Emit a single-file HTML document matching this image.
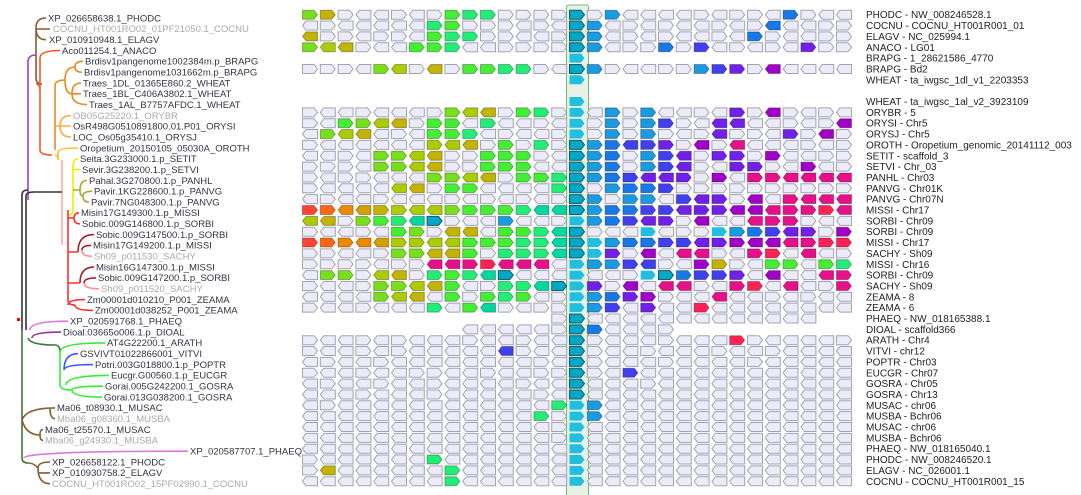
<!DOCTYPE html>
<html><head><meta charset="utf-8"><style>
body{margin:0;background:#fff}
svg{display:block}
text{font-family:"Liberation Sans",sans-serif}
</style></head><body>
<svg id="chart" width="1081" height="495" viewBox="0 0 1081 495" xmlns="http://www.w3.org/2000/svg">
<g id="tree" fill="none" stroke-width="1.6">
<path stroke="#8a5a30" d="M46 18 Q36 18 36 28 Q36 39.7 46 39.7 M36 29 H50 M36 29 V78 Q36 84 42 84"/>
<path stroke="#9a40d0" d="M28 200 V62 Q28 55 36 55"/>
<path stroke="#ff5522" d="M36 84 Q40 84 40 90 V150 Q40 155 52 155 M40 90 V58 Q40 50.5 60 50.5"/>
<path stroke="#e88a22" d="M55 150 V86 Q55 80 65 80 M65 80 Q65 67 75 67 M75 67 Q75 61.3 83 61.3 M75 67 Q75 72.2 82 72.2 M65 80 Q65 93.8 72 93.8 M72 93.8 Q72 83 81 83 M72 93.8 H81 M72 93.8 Q72 104.6 87 104.6"/>
<path stroke="#ffaa44" d="M55 126 H60 M60 126 Q60 115.5 71 115.5 M60 126 H71 M60 126 Q60 137 71 137"/>
<path stroke="#ffbb33" d="M55 155 Q58 155 58 160 V152 Q58 148 78 148"/>
<path stroke="#ffaaaa" d="M62 160 V245"/>
<path stroke="#eeee00" d="M78 158.8 Q73 158.8 73 168 V210 Q73 215 68 215 M73 169.6 H80"/>
<path stroke="#a8a830" d="M73 190 H80 M80 190 Q80 180.5 87 180.5 M80 190 Q80 196 83 196 M83 196 Q83 191.3 92 191.3 M83 196 Q83 202 89 202"/>
<path stroke="#ff3030" d="M68 210 V300 Q68 305 75 305 M68 218 H74 M74 218 Q74 212.9 79 212.9 M74 218 Q74 223.8 80 223.8 M68 252 H78 M68 283 H80 M68 305 Q68 299.6 85 299.6 M75 305 Q75 310.4 93 310.4"/>
<path stroke="#aa2030" d="M78 252 Q78 234.6 94 234.6 M82 250 Q82 245.4 91 245.4 M80 283 Q80 267.1 94 267.1 M84 283 Q84 277.9 96 277.9"/>
<path stroke="#ff9090" d="M82 250 Q82 256.3 92 256.3 M84 283 Q84 288.8 99 288.8"/>
<path stroke="#333" d="M22 195 V330 M26 196 V330 M22 195 Q22 190 28 190 M26 196 Q26 192 34 192 H62"/>
<path stroke="#dd77dd" d="M30 330 Q30 321.2 68 321.2 M24 458 Q24 451.2 188 451.2"/>
<path stroke="#993399" d="M32 338 Q32 332.1 61 332.1"/>
<path stroke="#3a7a3a" d="M22 330 V458 Q22 463 28 463 M28 338 Q30 345 55 345 Q60 345 60 352"/>
<path stroke="#33ee33" d="M60 375 V352 Q60 342.9 105 342.9 M66 385 Q66 375.4 109 375.4 M72 390 Q72 386.2 103 386.2 M72 390 Q72 397.1 102 397.1 M60 375 V385 Q60 390 72 390"/>
<path stroke="#4455ff" d="M64 370 Q64 353.7 78 353.7 M64 370 Q64 364.6 93 364.6"/>
<path stroke="#8a5a30" d="M22 420 Q26 407.9 55 407.9 M50 407.9 Q50 418.7 55 418.7 M22 420 Q26 435 40 435 Q40 429.5 43 429.5 M40 435 Q40 440.4 43 440.4 M28 463 Q34 463 38 468 Q38 462 50 462 M38 468 Q38 483.7 50 483.7 M38 472.9 H50"/>
<rect x="17" y="318" width="3" height="3" fill="#f00" stroke="none"/>
</g>
<rect id="hl" x="566.5" y="5" width="22" height="492" rx="2" fill="#e6f2e6" stroke="#6bbf6b" stroke-width="1"/>
<g id="grid"></g>
<g id="leftLabels" font-size="9.5"></g>
<g id="rightLabels" font-size="10"></g>
</svg>
<script>
const rowCells = [
"LO><<><>GSS>>>>C>B<<<<><>><D><<",
"<><<<<<SG>>><><CB<><><<><>d<<>>",
"o>><>><GSS>><<>CB<><><<><D><<>>",
"Lyo><<GGS<<>>>>CB<>>D>V<><><P>>",
"...............q...............",
">>><Ly>o>GGSS><CB><<>>BVP>m<<<<",
"...............q...............",
"...............................",
"...............q...............",
"><<><<<>Lyo>GS>q<B>B<<><P>m><><",
"><GLyo>GG<S<<><q>B>BV><pp<<><>m",
"<Lyo<><GGS<><<>q>B>B><>p>><P>m>",
"><<<<<<Yyo>G>S>CBDvVP>m>k<<<><>",
"<<><LLyo>>GGG><CBD>BVp>PP>M<<>>",
">>><LLyo>>GGG<<CBD>BVp><PP><M<>",
"><>><<<LLyo>GGSCBDVppP>M<KKkkkk",
"><<<<yo>GG<<<<SC>BDDV>>>>>>>>>>",
"<><<><<<><><><>CB>BB<VpP>m<Kkkk",
"1294OYyyLGGGSttCBDDVVpPPmmkKKRk",
"yo>LGStC><<B<<>qBDVpP>m<<kKK><<",
"><<><GL>oo<GGStC><<q<>>qBDVpP>M",
"12394YYyyGGGSStCqBDDVVpPMmmkKRR",
">><<>LLooG>SSStCqP>m<kk><KR<k<>",
">>>><>>kkKRkkk<qBBVv><MO><GG<GS",
"<LL>yo>SGStC<<<q<<>qCDVVP<m<<kK",
"><<>LLyoG<>SStCqP>m<kk><KR<k<>K",
"<<<<Lyo<G>GSG<>qBDPM><<k<<><><<",
"><<><<<S<Gt><>>qBV<P<<R<<<<<<<<",
"..............>C<<<<<<<<<<<<<..",
".........<<<<<>CD<<<>..........",
"><<><><<<><<><<C><<<><<<R><<<<>",
"><<><><<<<<v><<C><<><<<><<><<<<",
"<><<><<<<<<<<><C><<<><<<<><<<<<",
"><<><<>><<><<>>C><V<<<<<<<<<<<<",
"<><<><<><<<<><<C<<<><<<<<<<<<<<",
"<<<><<<><<<<<><C<<<<<<<<<<<<<<<",
"<><<<<<<<<<<<<SqB<<<<<<<<<<<<<<",
"<<<<<<<<<<<<<S>qB<<<<<<<<<<<<<<",
"<<<<<<<<<<<<<<>q<<<<<<<<<<<<<<<",
"<<<<<<<<<<<<<<>q<<<<<<<<<<<<<<<",
"<<<<<<<<<<<<<<<q<<<<<<<<<<<<<<<",
"><<<<<<S<<<<<<<q<<<<<<<<<<<<<<<",
">o<<<<<<S<<<<<<q<<<<<<<<<<<<<<<",
"<<<<<<<<S<<<<<<q<<<<<<<<<<<<<<<"
];
const rightLabels = [
"PHODC - NW_008246528.1","COCNU - COCNU_HT001R001_01","ELAGV - NC_025994.1","ANACO - LG01",
"BRAPG - 1_28621586_4770","BRAPG - Bd2","WHEAT - ta_iwgsc_1dl_v1_2203353","",
"WHEAT - ta_iwgsc_1al_v2_3923109","ORYBR - 5","ORYSI - Chr5","ORYSJ - Chr5",
"OROTH - Oropetium_genomic_20141112_003","SETIT - scaffold_3","SETVI - Chr_03","PANHL - Chr03",
"PANVG - Chr01K","PANVG - Chr07N","MISSI - Chr17","SORBI - Chr09","SORBI - Chr09","MISSI - Chr17",
"SACHY - Sh09","MISSI - Chr16","SORBI - Chr09","SACHY - Sh09","ZEAMA - 8","ZEAMA - 6",
"PHAEQ - NW_018165388.1","DIOAL - scaffold366","ARATH - Chr4","VITVI - chr12","POPTR - Chr03",
"EUCGR - Chr07","GOSRA - Chr05","GOSRA - Chr13","MUSAC - chr06","MUSBA - Bchr06","MUSAC - chr06",
"MUSBA - Bchr06","PHAEQ - NW_018165040.1","PHODC - NW_008246520.1","ELAGV - NC_026001.1",
"COCNU - COCNU_HT001R001_15"
];
const leafLabels = [
"XP_026658638.1_PHODC","COCNU_HT001RO02_01PF21050.1_COCNU","XP_010910948.1_ELAGV","Aco011254.1_ANACO",
"Brdisv1pangenome1002384m.p_BRAPG","Brdisv1pangenome1031662m.p_BRAPG","Traes_1DL_01365E860.2_WHEAT",
"Traes_1BL_C406A3802.1_WHEAT","Traes_1AL_B7757AFDC.1_WHEAT","OB05G25220.1_ORYBR",
"OsR498G0510891800.01.P01_ORYSI","LOC_Os05g35410.1_ORYSJ","Oropetium_20150105_05030A_OROTH",
"Seita.3G233000.1.p_SETIT","Sevir.3G238200.1.p_SETVI","Pahal.3G270800.1.p_PANHL",
"Pavir.1KG228600.1.p_PANVG","Pavir.7NG048300.1.p_PANVG","Misin17G149300.1.p_MISSI",
"Sobic.009G146800.1.p_SORBI","Sobic.009G147500.1.p_SORBI","Misin17G149200.1.p_MISSI",
"Sh09_p011530_SACHY","Misin16G147300.1.p_MISSI","Sobic.009G147200.1.p_SORBI","Sh09_p011520_SACHY",
"Zm00001d010210_P001_ZEAMA","Zm00001d038252_P001_ZEAMA","XP_020591768.1_PHAEQ",
"Dioal.03665o006.1.p_DIOAL","AT4G22200.1_ARATH","GSVIVT01022866001_VITVI","Potri.003G018800.1.p_POPTR",
"Eucgr.G00560.1.p_EUCGR","Gorai.005G242200.1_GOSRA","Gorai.013G038200.1_GOSRA","Ma06_t08930.1_MUSAC",
"Mba06_g08360.1_MUSBA","Ma06_t25570.1_MUSAC","Mba06_g24930.1_MUSBA","XP_020587707.1_PHAEQ",
"XP_026658122.1_PHODC","XP_010930758.2_ELAGV","COCNU_HT001RO02_15PF02990.1_COCNU"
];
const leafX = [48,53,49,62,85,84,83,83,89,73,73,73,80,80,82,89,94,91,81,82,96,93,94,96,98,101,87,95,70,63,107,80,95,111,105,104,57,57,45,45,190,52,52,52];
const leafGray = [1,9,22,25,37,39,43];

const NS="http://www.w3.org/2000/svg";
const COL={L:'#77e01c',Y:'#aacc00',O:'#c2b400',G:'#44ee33',S:'#22ee77',T:'#00d8a0',C:'#00a8c8',Q:'#22bedd',
 B:'#1a9ae0',D:'#1878e8',V:'#4040f0',P:'#7020e8',M:'#a000c8',K:'#e8108a',R:'#ff2255',
 '1':'#ff4433','2':'#ff6611','3':'#ee8800','9':'#ee8800','4':'#d4a000'};
const colX = k => 302 + 17.8*k;
const rowY = r => 14.7 + 10.85*r;
const W=15,H=9;
const grid=document.getElementById('grid');
function cellPath(x,y,right){
  const t=y-H/2,b=y+H/2;
  return right ? `M${x} ${t}H${x+W-3.5}L${x+W} ${y}L${x+W-3.5} ${b}H${x}Z`
               : `M${x+W} ${t}H${x+3.5}L${x} ${y}L${x+3.5} ${b}H${x+W}Z`;
}
rowCells.forEach((row,r)=>{
  for(let k=0;k<row.length;k++){
    const ch=row[k]; if(ch==='.') continue;
    const p=document.createElementNS(NS,'path');
    let fill,stroke,right;
    if(ch==='>'||ch==='<'){fill='#ebebfa';stroke='#a4a4ae';right=ch==='>';}
    else if(ch==='q'){fill=COL.Q;stroke='none';right=true;}
    else { const up=ch.toUpperCase(); fill=COL[up]; right=(ch===up)&&ch!=='9'&&ch!=='4';
      stroke=(ch==='C')?'#1a5a66':'rgba(0,0,0,0.3)'; }
    p.setAttribute('d',cellPath(colX(k)+0.5,rowY(r),right));
    p.setAttribute('fill',fill);
    p.setAttribute('stroke',stroke);
    p.setAttribute('stroke-width','1');
    
    
    grid.appendChild(p);
  }
});
const rl=document.getElementById('rightLabels');
rightLabels.forEach((s,r)=>{
  if(!s) return;
  const t=document.createElementNS(NS,'text');
  t.setAttribute('x',866); t.setAttribute('y',rowY(r)+3.5); t.setAttribute('fill','#222');
  t.textContent=s;
  
  
  rl.appendChild(t);
});
const ll=document.getElementById('leftLabels');
leafLabels.forEach((s,i)=>{
  const y=18+10.83*i;
  const t=document.createElementNS(NS,'text');
  t.setAttribute('x',leafX[i]); t.setAttribute('y',y+3.3);
  t.setAttribute('fill',leafGray.includes(i)?'#aaaaaa':'#333344');
  t.textContent=s;
  
  
  ll.appendChild(t);
});
</script>
</body></html>
